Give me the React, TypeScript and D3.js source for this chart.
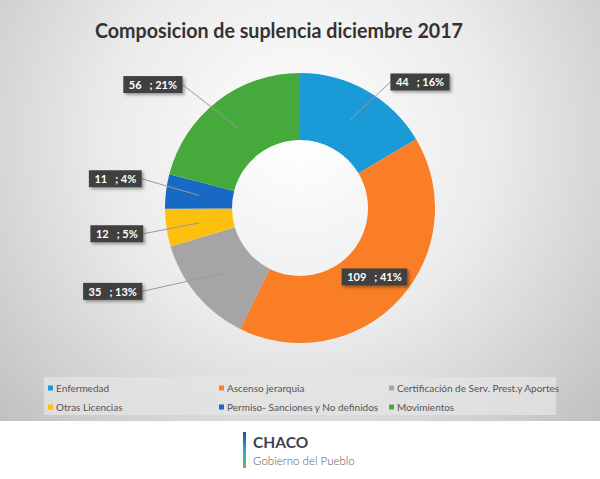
import React, { useEffect, useRef } from 'react';
import * as d3 from 'd3';

const title = 'Composicion de suplencia diciembre 2017';
const categories = [
  'Enfermedad',
  'Ascenso jerarquia',
  'Certificación de Serv. Prest.y Aportes',
  'Otras Licencias',
  'Permiso- Sanciones y No definidos',
  'Movimientos',
];
const values = [44, 109, 35, 12, 11, 56];
const percentLabels = ['16%', '41%', '13%', '5%', '4%', '21%'];
const colors = ['#1B9AD8', '#F97E25', '#A5A5A5', '#FEC00F', '#1769C4', '#46A93C'];

export default function App() {
  const ref = useRef<SVGSVGElement>(null);

  useEffect(() => {
    const W = 600;
    const H = 479;
    const svg = d3.select(ref.current);
    svg.selectAll('*').remove();

    const defs = svg.append('defs');
    const bg = defs
      .append('radialGradient')
      .attr('id', 'bg')
      .attr('gradientUnits', 'userSpaceOnUse')
      .attr('cx', 300)
      .attr('cy', 140)
      .attr('r', 430);
    bg.append('stop').attr('offset', '0').attr('stop-color', '#ffffff');
    bg.append('stop').attr('offset', '0.45').attr('stop-color', '#ebebeb');
    bg.append('stop').attr('offset', '1').attr('stop-color', '#bdbdbd');

    const logoGrad = defs
      .append('linearGradient')
      .attr('id', 'logoGrad')
      .attr('x1', 0).attr('y1', 0).attr('x2', 0).attr('y2', 1);
    logoGrad.append('stop').attr('offset', '0').attr('stop-color', '#1f4e9a');
    logoGrad.append('stop').attr('offset', '0.5').attr('stop-color', '#33a0dc');
    logoGrad.append('stop').attr('offset', '1').attr('stop-color', '#6dbf45');

    const shadow = defs.append('filter').attr('id', 'shadow').attr('x', '-20%').attr('y', '-30%').attr('width', '150%').attr('height', '180%');
    shadow
      .append('feDropShadow')
      .attr('dx', 2)
      .attr('dy', 2)
      .attr('stdDeviation', 1.5)
      .attr('flood-color', '#000')
      .attr('flood-opacity', 0.35);

    svg.append('rect').attr('width', W).attr('height', H).attr('fill', '#ffffff');
    svg.append('rect').attr('width', W).attr('height', 421).attr('fill', 'url(#bg)');

    // Title
    svg
      .append('text')
      .attr('x', 95)
      .attr('y', 38)
      .attr('textLength', 368)
      .attr('lengthAdjust', 'spacingAndGlyphs')
      .attr('font-family', 'Lato, sans-serif')
      .attr('font-weight', 700)
      .attr('font-size', 20)
      .attr('fill', '#333333')
      .text(title);

    // Donut
    const cx = 300;
    const cy = 208;
    const rOuter = 135;
    const rInner = 68;
    const pie = d3.pie<number>().sort(null).value((d) => d);
    const arcs = pie(values);
    const arc = d3.arc<d3.PieArcDatum<number>>().innerRadius(rInner).outerRadius(rOuter);
    const g = svg.append('g').attr('transform', `translate(${cx},${cy})`);
    g.selectAll('path.slice')
      .data(arcs)
      .join('path')
      .attr('class', 'slice')
      .attr('d', arc as any)
      .attr('fill', (_, i) => colors[i]);

    // Label placement (polar: angle in degrees clockwise from top, radius), null = at centroid
    const labelPolar: ([number, number] | null)[] = [
      [43.6, 174],
      null,
      [246, 205],
      [262, 185],
      [279, 187],
      [310, 192],
    ];

    const labelsG = svg.append('g');
    arcs.forEach((a, i) => {
      const [mx, my] = arc.centroid(a);
      const pc = labelPolar[i];
      let lx: number;
      let ly: number;
      if (pc) {
        const ang = (pc[0] * Math.PI) / 180;
        lx = cx + pc[1] * Math.sin(ang);
        ly = cy - pc[1] * Math.cos(ang);
      } else {
        lx = cx + mx;
        ly = cy + my;
      }
      const lab = labelsG.append('g');
      const txt = lab
        .append('text')
        .attr('x', lx)
        .attr('y', ly)
        .attr('text-anchor', 'middle')
        .attr('dominant-baseline', 'central')
        .attr('font-family', 'Lato, sans-serif')
        .attr('font-weight', 700)
        .attr('font-size', 11)
        .attr('fill', '#ffffff')
        .style('white-space', 'pre')
        .text(`${values[i]}   ; ${percentLabels[i]}`);
      const tw = (txt.node() as SVGTextElement).getComputedTextLength();
      const bw = tw + 11;
      const bh = 17;
      const bx = lx - bw / 2;
      const by = ly - bh / 2;
      lab
        .insert('rect', 'text')
        .attr('x', bx)
        .attr('y', by)
        .attr('width', bw)
        .attr('height', bh)
        .attr('fill', '#404040')
        .attr('filter', 'url(#shadow)');
      if (pc) {
        const ex = lx < cx ? bx + bw : bx;
        labelsG
          .insert('line', ':first-child')
          .attr('x1', cx + mx)
          .attr('y1', cy + my)
          .attr('x2', ex)
          .attr('y2', ly)
          .attr('stroke', '#9a9a9a')
          .attr('stroke-width', 1);
      }
    });

    // Legend
    const legend = svg.append('g');
    legend
      .append('rect')
      .attr('x', 44)
      .attr('y', 377)
      .attr('width', 512)
      .attr('height', 38)
      .attr('fill', '#e4e4e4')
      .attr('opacity', 0.75);
    const colX = [48, 219, 389];
    const rowY = [388, 407];
    categories.forEach((c, i) => {
      const x = colX[i % 3];
      const y = rowY[Math.floor(i / 3)];
      legend
        .append('rect')
        .attr('x', x)
        .attr('y', y - 2.5)
        .attr('width', 5)
        .attr('height', 5)
        .attr('fill', colors[i]);
      legend
        .append('text')
        .attr('x', x + 8)
        .attr('y', y)
        .attr('dominant-baseline', 'central')
        .attr('font-family', 'Lato, sans-serif')
        .attr('font-size', 10)
        .attr('fill', '#555555')
        .text(c);
    });

    // Logo
    svg
      .append('rect')
      .attr('x', 243)
      .attr('y', 432)
      .attr('width', 3)
      .attr('height', 36)
      .attr('fill', 'url(#logoGrad)');
    svg
      .append('text')
      .attr('x', 253)
      .attr('y', 448)
      .attr('font-family', 'Lato, sans-serif')
      .attr('font-weight', 700)
      .attr('font-size', 15.5)
      .attr('fill', '#3d4350')
      .text('CHACO');
    svg
      .append('text')
      .attr('x', 253)
      .attr('y', 465)
      .attr('font-family', 'Lato, sans-serif')
      .attr('font-weight', 300)
      .attr('font-size', 11.5)
      .attr('fill', '#5a5a5a')
      .text('Gobierno del Pueblo');
  }, []);

  return (
    <svg
      ref={ref}
      width={600}
      height={479}
      style={{ position: 'absolute', left: 0, top: 0, display: 'block' }}
    />
  );
}
